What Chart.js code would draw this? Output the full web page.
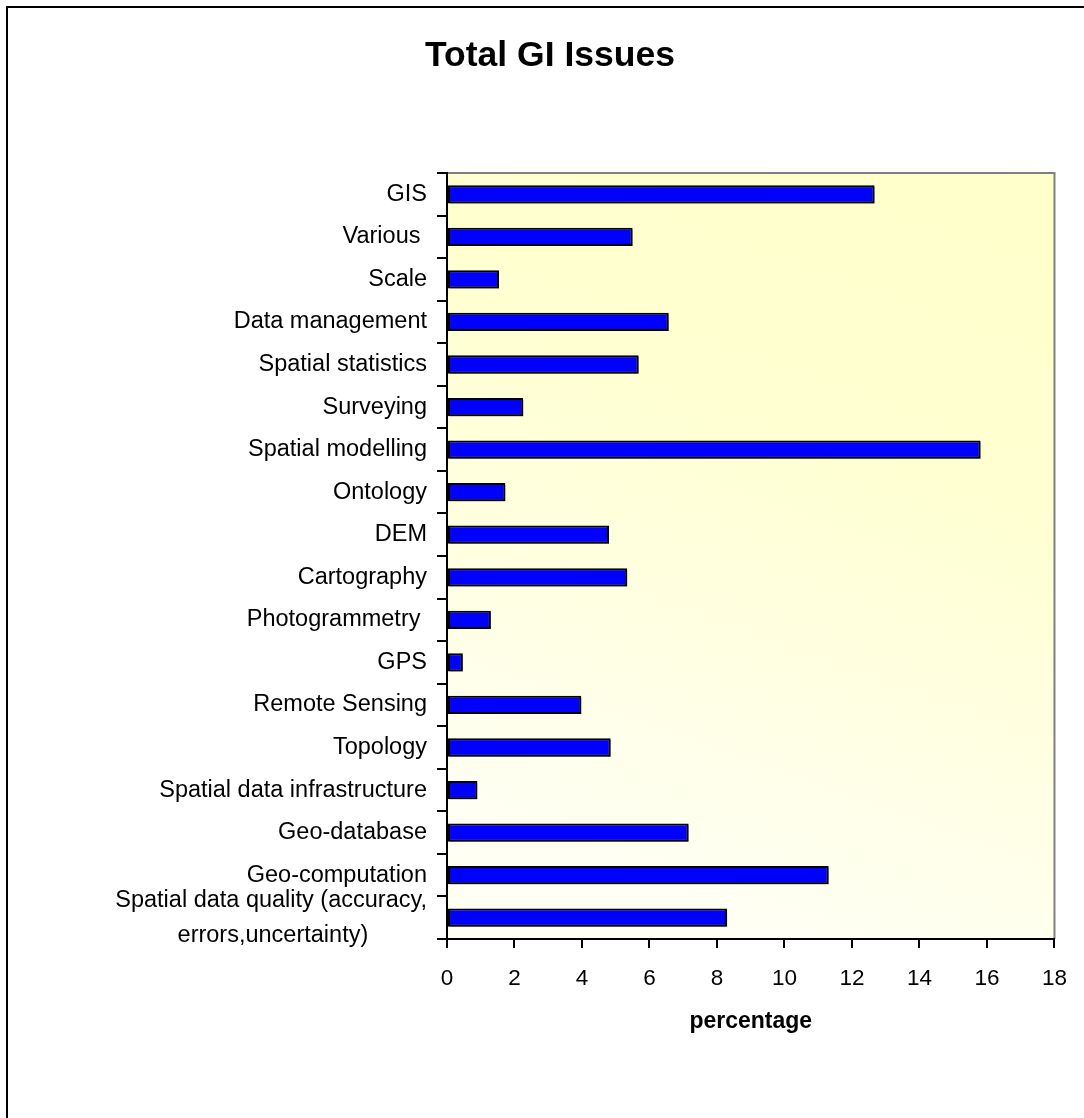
<!DOCTYPE html>
<html>
<head>
<meta charset="utf-8">
<title>Total GI Issues</title>
<script src="https://cdn.jsdelivr.net/npm/chart.js@4.4.0/dist/chart.umd.min.js"></script>
<style>
  html, body { margin: 0; padding: 0; background: #fff; }
  canvas { display: block; }
</style>
</head>
<body>
<canvas id="giChart" width="1084" height="1118"></canvas>
<script>
const categories = [
    'GIS',
    'Various ',
    'Scale',
    'Data management',
    'Spatial statistics',
    'Surveying',
    'Spatial modelling',
    'Ontology',
    'DEM',
    'Cartography',
    'Photogrammetry ',
    'GPS',
    'Remote Sensing',
    'Topology',
    'Spatial data infrastructure',
    'Geo-database',
    'Geo-computation',
    ['Spatial data quality (accuracy,', 'errors,uncertainty)']
];
const percentages = [12.67, 5.5, 1.54, 6.57, 5.68, 2.26, 15.81, 1.73, 4.8, 5.34, 1.3, 0.47, 3.98, 4.85, 0.9, 7.16, 11.31, 8.3];
const xTicks = [0, 2, 4, 6, 8, 10, 12, 14, 16, 18];

const FONT = "'Liberation Sans', Arial, Helvetica, sans-serif";
const labelSize = 23.5;

// pad the shorter lines of a multi-line label so they sit centred under the long one
const measureCtx = document.createElement('canvas').getContext('2d');
measureCtx.font = labelSize + 'px ' + FONT;
function centreLines(lines) {
    const widest = Math.max(...lines.map(l => measureCtx.measureText(l).width));
    return lines.map(l => {
        let s = l;
        const target = measureCtx.measureText(l).width + (widest - measureCtx.measureText(l).width) / 2;
        while (measureCtx.measureText(s + ' ').width <= target) s += ' ';
        return s;
    });
}

const pageFrame = {
    id: 'pageFrame',
    beforeDraw(chart) {
        const ctx = chart.ctx;
        const a = chart.chartArea;
        ctx.save();
        ctx.fillStyle = '#fff';
        ctx.fillRect(0, 0, chart.width, chart.height);

        // outer frame (only top and left edges fall inside the picture)
        ctx.strokeStyle = '#000';
        ctx.lineWidth = 2;
        ctx.beginPath();
        ctx.moveTo(7, chart.height + 5);
        ctx.lineTo(7, 7);
        ctx.lineTo(chart.width + 5, 7);
        ctx.stroke();

        // plot area fill: pale yellow at the top fading to near white at the bottom left
        const g = ctx.createLinearGradient(a.right, a.top, a.left + (a.right - a.left) * 0.55, a.bottom);
        g.addColorStop(0, '#FFFFCA');
        g.addColorStop(0.4, '#FFFFD2');
        g.addColorStop(1, '#FFFFF4');
        ctx.fillStyle = g;
        ctx.fillRect(a.left, a.top, a.right - a.left, a.bottom - a.top);

        ctx.strokeStyle = '#808080';
        ctx.lineWidth = 2;
        ctx.beginPath();
        ctx.moveTo(a.left, a.top);
        ctx.lineTo(a.right, a.top);
        ctx.lineTo(a.right, a.bottom);
        ctx.stroke();
        ctx.restore();
    }
};

const barShadow = {
    id: 'barShadow',
    beforeDatasetsDraw(chart) {
        const ctx = chart.ctx;
        ctx.save();
        ctx.shadowColor = 'rgba(0,0,0,0.45)';
        ctx.shadowOffsetX = 2;
        ctx.shadowOffsetY = 2;
        ctx.shadowBlur = 0;
    },
    afterDatasetsDraw(chart) {
        chart.ctx.restore();
    }
};

new Chart(document.getElementById('giChart'), {
    type: 'bar',
    data: {
        labels: categories.map(c => Array.isArray(c) ? centreLines(c) : c),
        datasets: [{
            data: percentages,
            backgroundColor: '#0000FF',
            borderColor: '#000',
            borderWidth: 2,
            borderSkipped: false,
            barPercentage: 0.43,
            categoryPercentage: 1
        }]
    },
    options: {
        indexAxis: 'y',
        responsive: false,
        animation: false,
        devicePixelRatio: 1,
        layout: { padding: { left: 45, right: 29, top: 0, bottom: 0 } },
        plugins: {
            legend: { display: false },
            tooltip: { enabled: false },
            title: {
                display: true,
                text: 'Total GI Issues',
                color: '#000',
                font: { family: FONT, size: 35.5, weight: 'bold', lineHeight: 1.2 },
                padding: { top: 35, bottom: 95.4 }
            }
        },
        scales: {
            x: {
                min: xTicks[0],
                max: xTicks[xTicks.length - 1],
                afterFit(scale) { scale.height = 179; },
                ticks: {
                    stepSize: xTicks[1] - xTicks[0],
                    color: '#000',
                    padding: 17,
                    maxRotation: 0,
                    font: { family: FONT, size: 22.5, lineHeight: 1.2 }
                },
                grid: {
                    drawOnChartArea: false,
                    drawTicks: true,
                    tickLength: 9,
                    color: '#000',
                    lineWidth: 2
                },
                border: { display: true, color: '#000', width: 2 },
                title: {
                    display: true,
                    text: 'percentage',
                    color: '#000',
                    font: { family: FONT, size: 23, weight: 'bold', lineHeight: 1.2 },
                    padding: { top: 0, bottom: 83 }
                }
            },
            y: {
                afterFit(scale) { scale.width = 402; },
                ticks: {
                    color: '#000',
                    padding: 10,
                    autoSkip: false,
                    font: { family: FONT, size: labelSize, lineHeight: 1.5 }
                },
                grid: {
                    offset: true,
                    drawOnChartArea: false,
                    drawTicks: true,
                    tickLength: 10,
                    color: '#000',
                    lineWidth: 2
                },
                border: { display: true, color: '#000', width: 2 }
            }
        }
    },
    plugins: [pageFrame, barShadow]
});
</script>
</body>
</html>
